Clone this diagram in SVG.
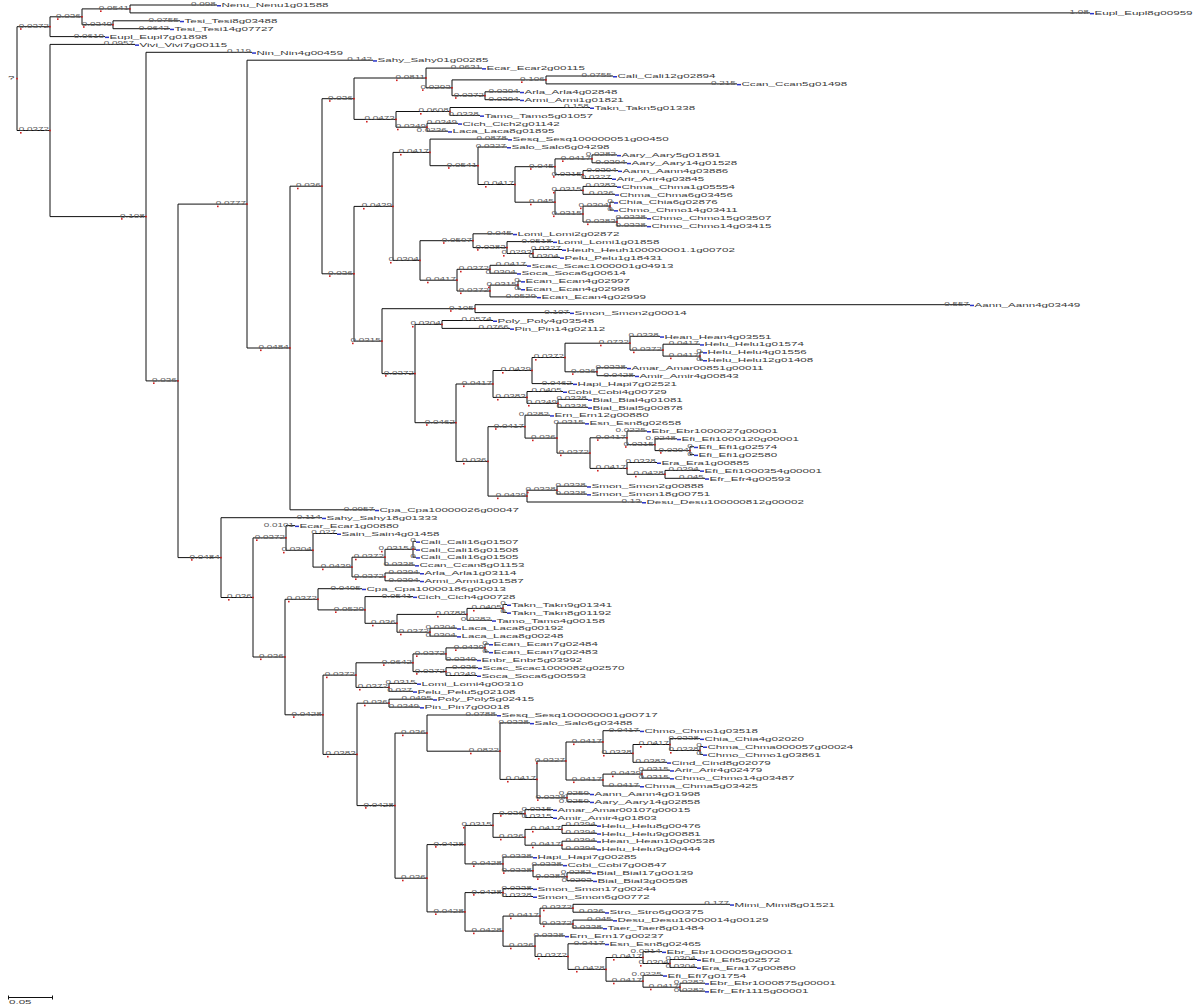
<svg xmlns="http://www.w3.org/2000/svg" xmlns:xlink="http://www.w3.org/1999/xlink" width="1200" height="1008" viewBox="0 0 1200 1008">
<style>
.c path{fill:none;stroke:#111;stroke-width:1}
.b{font-family:"Liberation Sans",Arial,sans-serif;font-size:5.2px;fill:#5a5a5a;text-anchor:end;transform-box:fill-box;transform-origin:100% 50%;transform:scaleX(1.9)}
.l{font-family:"Liberation Sans",Arial,sans-serif;font-size:5.4px;fill:#3a3a3a;transform-box:fill-box;transform-origin:0% 50%;transform:scaleX(2.15)}
</style>
<defs>
<rect id="bm" width="4" height="1.5" fill="#2a35c8"/>
<rect id="rd" width="1.6" height="1.6" fill="#d02020"/>
</defs>
<rect width="1200" height="1008" fill="#fff"/>
<g id="connectors" class="c">
<path d="M17 26.7V130.5M17 26.7H50M17 130.5H50"/>
<path d="M50 16.8V36.6M50 16.8H82M50 36.6H105"/>
<path d="M82 8.9V24.7M82 8.9H130M82 24.7H113"/>
<path d="M130 5V12.9M130 5H217M130 12.9H1090"/>
<path d="M113 20.8V28.7M113 20.8H180M113 28.7H170"/>
<path d="M50 44.4V216.6M50 44.4H135M50 216.6H146"/>
<path d="M146 52.3V380.9M146 52.3H252M146 380.9H178"/>
<path d="M178 204.1V557.6M178 204.1H247M178 557.6H221"/>
<path d="M247 60.2V348M247 60.2H373M247 348H290"/>
<path d="M290 186.2V509.8M290 186.2H322M290 509.8H375"/>
<path d="M322 98.7V273.8M322 98.7H354M322 273.8H354"/>
<path d="M354 78V119.4M354 78H426M354 119.4H396"/>
<path d="M426 68.1V87.8M426 68.1H482M426 87.8H452"/>
<path d="M452 79.9V95.7M452 79.9H546M452 95.7H485"/>
<path d="M546 76V83.9M546 76H613M546 83.9H737"/>
<path d="M485 91.8V99.7M485 91.8H520M485 99.7H520"/>
<path d="M396 111.5V127.2M396 111.5H450M396 127.2H427"/>
<path d="M450 107.5V115.4M450 107.5H590M450 115.4H480"/>
<path d="M427 123.3V131.2M427 123.3H458M427 131.2H448"/>
<path d="M354 206.4V341.1M354 206.4H393M354 341.1H382"/>
<path d="M393 152.4V260.4M393 152.4H430M393 260.4H420"/>
<path d="M430 139.1V165.7M430 139.1H508M430 165.7H478"/>
<path d="M478 147V184.5M478 147H507M478 184.5H515"/>
<path d="M515 166.7V202.2M515 166.7H555M515 202.2H555"/>
<path d="M555 158.9V174.6M555 158.9H592M555 174.6H583"/>
<path d="M592 154.9V162.8M592 154.9H617M592 162.8H627"/>
<path d="M583 170.6V178.5M583 170.6H618M583 178.5H612"/>
<path d="M555 190.4V214M555 190.4H583M555 214H583"/>
<path d="M583 186.4V194.3M583 186.4H617M583 194.3H615"/>
<path d="M583 206.1V222M583 206.1H610M583 222H617"/>
<path d="M610 202.2V210.1M610 202.2H614M610 210.1H614"/>
<path d="M617 218V225.9M617 218H647M617 225.9H647"/>
<path d="M420 240.7V280.2M420 240.7H473M420 280.2H457"/>
<path d="M473 233.8V247.6M473 233.8H513M473 247.6H507"/>
<path d="M507 241.6V253.5M507 241.6H553M507 253.5H533"/>
<path d="M533 249.5V257.4M533 249.5H562M533 257.4H560"/>
<path d="M457 269.3V291M457 269.3H490M457 291H490"/>
<path d="M490 265.3V273.2M490 265.3H527M490 273.2H517"/>
<path d="M490 285.1V296.9M490 285.1H518M490 296.9H537"/>
<path d="M518 281.1V289M518 281.1H521M518 289H521"/>
<path d="M382 308.7V373.6M382 308.7H475M382 373.6H415"/>
<path d="M475 304.7V312.6M475 304.7H970M475 312.6H570"/>
<path d="M415 324.4V422.7M415 324.4H442M415 422.7H456"/>
<path d="M442 320.5V328.4M442 320.5H493M442 328.4H510"/>
<path d="M456 384V461.4M456 384H493M456 461.4H488"/>
<path d="M493 370.5V397.4M493 370.5H532M493 397.4H527"/>
<path d="M532 357.5V383.6M532 357.5H565M532 383.6H573"/>
<path d="M565 343.2V371.8M565 343.2H630M565 371.8H597"/>
<path d="M630 336.3V350.1M630 336.3H660M630 350.1H663"/>
<path d="M663 344.2V356.1M663 344.2H700M663 356.1H700"/>
<path d="M700 352.1V360M700 352.1H703M700 360H703"/>
<path d="M597 367.8V375.7M597 367.8H627M597 375.7H635"/>
<path d="M527 391.5V403.4M527 391.5H563M527 403.4H558"/>
<path d="M558 399.4V407.3M558 399.4H588M558 407.3H588"/>
<path d="M488 426.7V496.1M488 426.7H525M488 496.1H527"/>
<path d="M525 415.2V438.1M525 415.2H550M525 438.1H557"/>
<path d="M557 423.1V453.1M557 423.1H585M557 453.1H590"/>
<path d="M590 437.8V468.4M590 437.8H627M590 468.4H627"/>
<path d="M627 431V444.7M627 431H647M627 444.7H655"/>
<path d="M655 438.8V450.6M655 438.8H677M655 450.6H690"/>
<path d="M690 446.7V454.6M690 446.7H694M690 454.6H694"/>
<path d="M627 462.5V474.3M627 462.5H657M627 474.3H665"/>
<path d="M665 470.4V478.3M665 470.4H700M665 478.3H705"/>
<path d="M527 490.2V502M527 490.2H557M527 502H642"/>
<path d="M557 486.2V494.1M557 486.2H587M557 494.1H587"/>
<path d="M221 517.7V597.5M221 517.7H322M221 597.5H253"/>
<path d="M253 537.9V657M253 537.9H286M253 657H285"/>
<path d="M286 525.6V550.3M286 525.6H295M286 550.3H313"/>
<path d="M313 533.5V567.1M313 533.5H337M313 567.1H352"/>
<path d="M352 557.2V576.9M352 557.2H385M352 576.9H385"/>
<path d="M385 549.3V565.1M385 549.3H413M385 565.1H415"/>
<path d="M413 541.4V557.2M413 541.4H416M413 549.3H416M413 557.2H416"/>
<path d="M385 573V580.8M385 573H420M385 580.8H420"/>
<path d="M285 599.3V714.8M285 599.3H318M285 714.8H323"/>
<path d="M318 588.7V609.9M318 588.7H362M318 609.9H365"/>
<path d="M365 596.6V623.3M365 596.6H413M365 623.3H397"/>
<path d="M397 614.4V632.2M397 614.4H467M397 632.2H430"/>
<path d="M467 608.4V620.3M467 608.4H503M467 620.3H492"/>
<path d="M503 604.5V612.4M503 604.5H507M503 612.4H507"/>
<path d="M430 628.2V636.1M430 628.2H457M430 636.1H457"/>
<path d="M323 675.1V754.4M323 675.1H356M323 754.4H357"/>
<path d="M356 662.8V687.4M356 662.8H413M356 687.4H389"/>
<path d="M413 653.9V671.6M413 653.9H446M413 671.6H446"/>
<path d="M446 647.9V659.8M446 647.9H485M446 659.8H477"/>
<path d="M485 644V651.9M485 644H489M485 651.9H489"/>
<path d="M446 667.7V675.5M446 667.7H478M446 675.5H477"/>
<path d="M389 683.4V691.3M389 683.4H417M389 691.3H413"/>
<path d="M357 703.2V805.6M357 703.2H389M357 805.6H395"/>
<path d="M389 699.2V707.1M389 699.2H433M389 707.1H420"/>
<path d="M395 733.1V878.2M395 733.1H427M395 878.2H427"/>
<path d="M427 715V751.2M427 715H497M427 751.2H500"/>
<path d="M500 722.9V779.4M500 722.9H530M500 779.4H537"/>
<path d="M537 761V797.8M537 761H566M537 797.8H567"/>
<path d="M566 742V780M566 742H603M566 780H603"/>
<path d="M603 730.7V753.4M603 730.7H640M603 753.4H633"/>
<path d="M633 744.5V762.3M633 744.5H670M633 762.3H667"/>
<path d="M670 738.6V750.5M670 738.6H700M670 750.5H700"/>
<path d="M700 746.5V754.4M700 746.5H703M700 754.4H703"/>
<path d="M603 774.1V786M603 774.1H642M603 786H640"/>
<path d="M642 770.2V778.1M642 770.2H670M642 778.1H670"/>
<path d="M567 793.8V801.7M567 793.8H590M567 801.7H590"/>
<path d="M427 844.6V911.9M427 844.6H465M427 911.9H465"/>
<path d="M465 825.4V863.9M465 825.4H493M465 863.9H503"/>
<path d="M493 813.6V837.3M493 813.6H525M493 837.3H525"/>
<path d="M525 809.6V817.5M525 809.6H553M525 817.5H553"/>
<path d="M525 829.4V845.2M525 829.4H562M525 845.2H562"/>
<path d="M562 825.4V833.3M562 825.4H597M562 833.3H597"/>
<path d="M562 841.2V849.1M562 841.2H597M562 849.1H597"/>
<path d="M503 857V870.8M503 857H533M503 870.8H533"/>
<path d="M533 864.9V876.8M533 864.9H563M533 876.8H567"/>
<path d="M567 872.8V880.7M567 872.8H592M567 880.7H593"/>
<path d="M465 892.6V931.1M465 892.6H503M465 931.1H503"/>
<path d="M503 888.6V896.5M503 888.6H533M503 896.5H533"/>
<path d="M503 916.1V946.2M503 916.1H540M503 946.2H535"/>
<path d="M540 908.2V924M540 908.2H573M540 924H573"/>
<path d="M573 904.3V912.2M573 904.3H730M573 912.2H605"/>
<path d="M573 920.1V928M573 920.1H613M573 928H603"/>
<path d="M535 935.9V956.5M535 935.9H565M535 956.5H568"/>
<path d="M568 943.8V969.4M568 943.8H605M568 969.4H606"/>
<path d="M606 957.5V981.2M606 957.5H643M606 981.2H643"/>
<path d="M643 951.6V963.5M643 951.6H662M643 963.5H670"/>
<path d="M670 959.5V967.4M670 959.5H697M670 967.4H697"/>
<path d="M643 975.3V987.2M643 975.3H663M643 987.2H680"/>
<path d="M680 983.2V991.1M680 983.2H705M680 991.1H705"/>
<path d="M8 997.5H53M8.5 995.5V999.5M52.5 995.5V999.5"/>
<g id="branch-labels">
<text class="b" x="49" y="27.7">0.0372</text><text class="b" x="49" y="131.5">0.0372</text>
<text class="b" x="81" y="17.8">0.036</text><text class="b" x="104" y="37.6">0.0619</text>
<text class="b" x="129" y="9.9">0.0541</text><text class="b" x="112" y="25.7">0.0349</text>
<text class="b" x="216" y="6">0.098</text><text class="b" x="1089" y="13.9">1.08</text>
<text class="b" x="179" y="21.8">0.0755</text><text class="b" x="169" y="29.7">0.0642</text>
<text class="b" x="134" y="45.4">0.0957</text><text class="b" x="145" y="217.6">0.108</text>
<text class="b" x="251" y="53.3">0.119</text><text class="b" x="177" y="381.9">0.036</text>
<text class="b" x="246" y="205.1">0.0777</text><text class="b" x="220" y="558.6">0.0484</text>
<text class="b" x="372" y="61.2">0.142</text><text class="b" x="289" y="349">0.0484</text>
<text class="b" x="321" y="187.2">0.036</text><text class="b" x="374" y="510.8">0.0957</text>
<text class="b" x="353" y="99.7">0.036</text><text class="b" x="353" y="274.8">0.036</text>
<text class="b" x="425" y="79">0.0811</text><text class="b" x="395" y="120.4">0.0473</text>
<text class="b" x="481" y="69.1">0.0631</text><text class="b" x="451" y="88.8">0.0293</text>
<text class="b" x="545" y="80.9">0.106</text><text class="b" x="484" y="96.7">0.0372</text>
<text class="b" x="612" y="77">0.0755</text><text class="b" x="736" y="84.9">0.215</text>
<text class="b" x="519" y="92.8">0.0394</text><text class="b" x="519" y="100.7">0.0394</text>
<text class="b" x="449" y="112.5">0.0608</text><text class="b" x="426" y="128.2">0.0349</text>
<text class="b" x="589" y="108.5">0.158</text><text class="b" x="479" y="116.4">0.0338</text>
<text class="b" x="457" y="124.3">0.0349</text><text class="b" x="447" y="132.2">0.0236</text>
<text class="b" x="392" y="207.4">0.0439</text><text class="b" x="381" y="342.1">0.0315</text>
<text class="b" x="429" y="153.4">0.0417</text><text class="b" x="419" y="261.4">0.0304</text>
<text class="b" x="507" y="140.1">0.0878</text><text class="b" x="477" y="166.7">0.0541</text>
<text class="b" x="506" y="148">0.0327</text><text class="b" x="514" y="185.5">0.0417</text>
<text class="b" x="554" y="167.7">0.045</text><text class="b" x="554" y="203.2">0.045</text>
<text class="b" x="591" y="159.9">0.0417</text><text class="b" x="582" y="175.6">0.0315</text>
<text class="b" x="616" y="155.9">0.0282</text><text class="b" x="626" y="163.8">0.0394</text>
<text class="b" x="617" y="171.6">0.0394</text><text class="b" x="611" y="179.5">0.0327</text>
<text class="b" x="582" y="191.4">0.0315</text><text class="b" x="582" y="215">0.0315</text>
<text class="b" x="616" y="187.4">0.0383</text><text class="b" x="614" y="195.3">0.036</text>
<text class="b" x="609" y="207.1">0.0304</text><text class="b" x="616" y="223">0.0383</text>
<text class="b" x="613" y="203.2">0</text><text class="b" x="613" y="211.1">0</text>
<text class="b" x="646" y="219">0.0338</text><text class="b" x="646" y="226.9">0.0338</text>
<text class="b" x="472" y="241.7">0.0597</text><text class="b" x="456" y="281.2">0.0417</text>
<text class="b" x="512" y="234.8">0.045</text><text class="b" x="506" y="248.6">0.0383</text>
<text class="b" x="552" y="242.6">0.0518</text><text class="b" x="532" y="254.5">0.0293</text>
<text class="b" x="561" y="250.5">0.0327</text><text class="b" x="559" y="258.4">0.0304</text>
<text class="b" x="489" y="270.3">0.0372</text><text class="b" x="489" y="292">0.0372</text>
<text class="b" x="526" y="266.3">0.0417</text><text class="b" x="516" y="274.2">0.0304</text>
<text class="b" x="517" y="286.1">0.0315</text><text class="b" x="536" y="297.9">0.0529</text>
<text class="b" x="520" y="282.1">0</text><text class="b" x="520" y="290">0</text>
<text class="b" x="474" y="309.7">0.105</text><text class="b" x="414" y="374.6">0.0372</text>
<text class="b" x="969" y="305.7">0.557</text><text class="b" x="569" y="313.6">0.107</text>
<text class="b" x="441" y="325.4">0.0304</text><text class="b" x="455" y="423.7">0.0462</text>
<text class="b" x="492" y="321.5">0.0574</text><text class="b" x="509" y="329.4">0.0766</text>
<text class="b" x="492" y="385">0.0417</text><text class="b" x="487" y="462.4">0.036</text>
<text class="b" x="531" y="371.5">0.0439</text><text class="b" x="526" y="398.4">0.0383</text>
<text class="b" x="564" y="358.5">0.0372</text><text class="b" x="572" y="384.6">0.0462</text>
<text class="b" x="629" y="344.2">0.0732</text><text class="b" x="596" y="372.8">0.036</text>
<text class="b" x="659" y="337.3">0.0338</text><text class="b" x="662" y="351.1">0.0372</text>
<text class="b" x="699" y="345.2">0.0417</text><text class="b" x="699" y="357.1">0.0417</text>
<text class="b" x="702" y="353.1">0</text><text class="b" x="702" y="361">0</text>
<text class="b" x="626" y="368.8">0.0338</text><text class="b" x="634" y="376.7">0.0428</text>
<text class="b" x="562" y="392.5">0.0405</text><text class="b" x="557" y="404.4">0.0349</text>
<text class="b" x="587" y="400.4">0.0338</text><text class="b" x="587" y="408.3">0.0338</text>
<text class="b" x="524" y="427.7">0.0417</text><text class="b" x="526" y="497.1">0.0439</text>
<text class="b" x="549" y="416.2">0.0282</text><text class="b" x="556" y="439.1">0.036</text>
<text class="b" x="584" y="424.1">0.0315</text><text class="b" x="589" y="454.1">0.0372</text>
<text class="b" x="626" y="438.8">0.0417</text><text class="b" x="626" y="469.4">0.0417</text>
<text class="b" x="646" y="432">0.0225</text><text class="b" x="654" y="445.7">0.0315</text>
<text class="b" x="676" y="439.8">0.0248</text><text class="b" x="689" y="451.6">0.0394</text>
<text class="b" x="693" y="447.7">0</text><text class="b" x="693" y="455.6">0</text>
<text class="b" x="656" y="463.5">0.0338</text><text class="b" x="664" y="475.3">0.0428</text>
<text class="b" x="699" y="471.4">0.0394</text><text class="b" x="704" y="479.3">0.045</text>
<text class="b" x="556" y="491.2">0.0338</text><text class="b" x="641" y="503">0.13</text>
<text class="b" x="586" y="487.2">0.0338</text><text class="b" x="586" y="495.1">0.0338</text>
<text class="b" x="321" y="518.7">0.114</text><text class="b" x="252" y="598.5">0.036</text>
<text class="b" x="285" y="538.9">0.0372</text><text class="b" x="284" y="658">0.036</text>
<text class="b" x="294" y="526.6">0.0101</text><text class="b" x="312" y="551.3">0.0304</text>
<text class="b" x="336" y="534.5">0.027</text><text class="b" x="351" y="568.1">0.0439</text>
<text class="b" x="384" y="558.2">0.0372</text><text class="b" x="384" y="577.9">0.0372</text>
<text class="b" x="409" y="550.3">0.0315</text><text class="b" x="414" y="566.1">0.0338</text>
<text class="b" x="416" y="542.4">0</text><text class="b" x="416" y="550.3">0</text><text class="b" x="416" y="558.2">0</text>
<text class="b" x="419" y="574">0.0394</text><text class="b" x="419" y="581.8">0.0394</text>
<text class="b" x="317" y="600.3">0.0372</text><text class="b" x="322" y="715.8">0.0428</text>
<text class="b" x="361" y="589.7">0.0495</text><text class="b" x="364" y="610.9">0.0529</text>
<text class="b" x="412" y="597.6">0.0541</text><text class="b" x="396" y="624.3">0.036</text>
<text class="b" x="466" y="615.4">0.0788</text><text class="b" x="429" y="633.2">0.0372</text>
<text class="b" x="502" y="609.4">0.0405</text><text class="b" x="491" y="621.3">0.0282</text>
<text class="b" x="506" y="605.5">0</text><text class="b" x="506" y="613.4">0</text>
<text class="b" x="456" y="629.2">0.0304</text><text class="b" x="456" y="637.1">0.0304</text>
<text class="b" x="355" y="676.1">0.0372</text><text class="b" x="356" y="755.4">0.0383</text>
<text class="b" x="412" y="663.8">0.0642</text><text class="b" x="388" y="688.4">0.0372</text>
<text class="b" x="445" y="654.9">0.0372</text><text class="b" x="445" y="672.6">0.0372</text>
<text class="b" x="484" y="648.9">0.0439</text><text class="b" x="476" y="660.8">0.0349</text>
<text class="b" x="488" y="645">0</text><text class="b" x="488" y="652.9">0</text>
<text class="b" x="477" y="668.7">0.036</text><text class="b" x="476" y="676.5">0.0349</text>
<text class="b" x="416" y="684.4">0.0315</text><text class="b" x="412" y="692.3">0.027</text>
<text class="b" x="388" y="704.2">0.036</text><text class="b" x="394" y="806.6">0.0428</text>
<text class="b" x="432" y="700.2">0.0495</text><text class="b" x="419" y="708.1">0.0349</text>
<text class="b" x="426" y="734.1">0.036</text><text class="b" x="426" y="879.2">0.036</text>
<text class="b" x="496" y="716">0.0788</text><text class="b" x="499" y="752.2">0.0822</text>
<text class="b" x="529" y="723.9">0.0338</text><text class="b" x="536" y="780.4">0.0417</text>
<text class="b" x="565" y="762">0.0327</text><text class="b" x="566" y="798.8">0.0338</text>
<text class="b" x="602" y="743">0.0417</text><text class="b" x="602" y="781">0.0417</text>
<text class="b" x="639" y="731.7">0.0417</text><text class="b" x="632" y="754.4">0.0338</text>
<text class="b" x="669" y="745.5">0.0417</text><text class="b" x="666" y="763.3">0.0383</text>
<text class="b" x="699" y="739.6">0.0338</text><text class="b" x="699" y="751.5">0.0338</text>
<text class="b" x="702" y="747.5">0</text><text class="b" x="702" y="755.4">0</text>
<text class="b" x="641" y="775.1">0.0439</text><text class="b" x="639" y="787">0.0417</text>
<text class="b" x="669" y="771.2">0.0315</text><text class="b" x="669" y="779.1">0.0315</text>
<text class="b" x="589" y="794.8">0.0259</text><text class="b" x="589" y="802.7">0.0259</text>
<text class="b" x="464" y="845.6">0.0428</text><text class="b" x="464" y="912.9">0.0428</text>
<text class="b" x="492" y="826.4">0.0315</text><text class="b" x="502" y="864.9">0.0428</text>
<text class="b" x="524" y="814.6">0.036</text><text class="b" x="524" y="838.3">0.036</text>
<text class="b" x="552" y="810.6">0.0315</text><text class="b" x="552" y="818.5">0.0315</text>
<text class="b" x="561" y="830.4">0.0417</text><text class="b" x="561" y="846.2">0.0417</text>
<text class="b" x="596" y="826.4">0.0394</text><text class="b" x="596" y="834.3">0.0394</text>
<text class="b" x="596" y="842.2">0.0394</text><text class="b" x="596" y="850.1">0.0394</text>
<text class="b" x="532" y="858">0.0338</text><text class="b" x="532" y="871.8">0.0338</text>
<text class="b" x="562" y="865.9">0.0338</text><text class="b" x="566" y="877.8">0.0383</text>
<text class="b" x="591" y="873.8">0.0282</text><text class="b" x="592" y="881.7">0.0293</text>
<text class="b" x="502" y="893.6">0.0428</text><text class="b" x="502" y="932.1">0.0428</text>
<text class="b" x="532" y="889.6">0.0338</text><text class="b" x="532" y="897.5">0.0338</text>
<text class="b" x="539" y="917.1">0.0417</text><text class="b" x="534" y="947.2">0.036</text>
<text class="b" x="572" y="909.2">0.0372</text><text class="b" x="572" y="925">0.0372</text>
<text class="b" x="729" y="905.3">0.177</text><text class="b" x="604" y="913.2">0.036</text>
<text class="b" x="612" y="921.1">0.045</text><text class="b" x="602" y="929">0.0338</text>
<text class="b" x="564" y="936.9">0.0338</text><text class="b" x="567" y="957.5">0.0372</text>
<text class="b" x="604" y="944.8">0.0417</text><text class="b" x="605" y="970.4">0.0428</text>
<text class="b" x="642" y="958.5">0.0417</text><text class="b" x="642" y="982.2">0.0417</text>
<text class="b" x="661" y="952.6">0.0214</text><text class="b" x="669" y="964.5">0.0304</text>
<text class="b" x="696" y="960.5">0.0304</text><text class="b" x="696" y="968.4">0.0304</text>
<text class="b" x="662" y="976.3">0.0225</text><text class="b" x="679" y="988.2">0.0417</text>
<text class="b" x="704" y="984.2">0.0282</text><text class="b" x="704" y="992.1">0.0282</text>
<text class="l" x="9" y="1004">0.05</text>
<text class="l" x="8" y="80.5">?</text>
</g>
</g>
<g id="leaves">
<g id="leaf-0"><use href="#bm" x="217" y="5"/><text class="l" x="221.5" y="7.3">Nenu_Nenu1g01588</text></g>
<g id="leaf-1"><use href="#bm" x="1090" y="12.9"/><text class="l" x="1094.5" y="15.2">Eupl_Eupl8g00959</text></g>
<g id="leaf-2"><use href="#bm" x="180" y="20.8"/><text class="l" x="184.5" y="23.1">Tesi_Tesi8g03488</text></g>
<g id="leaf-3"><use href="#bm" x="170" y="28.7"/><text class="l" x="174.5" y="31">Tesi_Tesi14g07727</text></g>
<g id="leaf-4"><use href="#bm" x="105" y="36.6"/><text class="l" x="109.5" y="38.9">Eupl_Eupl7g01898</text></g>
<g id="leaf-5"><use href="#bm" x="135" y="44.4"/><text class="l" x="139.5" y="46.7">Vivi_Vivi7g00115</text></g>
<g id="leaf-6"><use href="#bm" x="252" y="52.3"/><text class="l" x="256.5" y="54.6">Nin_Nin4g00459</text></g>
<g id="leaf-7"><use href="#bm" x="373" y="60.2"/><text class="l" x="377.5" y="62.5">Sahy_Sahy01g00285</text></g>
<g id="leaf-8"><use href="#bm" x="482" y="68.1"/><text class="l" x="486.5" y="70.4">Ecar_Ecar2g00115</text></g>
<g id="leaf-9"><use href="#bm" x="613" y="76"/><text class="l" x="617.5" y="78.3">Cali_Cali12g02894</text></g>
<g id="leaf-10"><use href="#bm" x="737" y="83.9"/><text class="l" x="741.5" y="86.2">Ccan_Ccan5g01498</text></g>
<g id="leaf-11"><use href="#bm" x="520" y="91.8"/><text class="l" x="524.5" y="94.1">Arla_Arla4g02848</text></g>
<g id="leaf-12"><use href="#bm" x="520" y="99.7"/><text class="l" x="524.5" y="102">Armi_Armi1g01821</text></g>
<g id="leaf-13"><use href="#bm" x="590" y="107.5"/><text class="l" x="594.5" y="109.8">Takn_Takn5g01338</text></g>
<g id="leaf-14"><use href="#bm" x="480" y="115.4"/><text class="l" x="484.5" y="117.7">Tamo_Tamo5g01057</text></g>
<g id="leaf-15"><use href="#bm" x="458" y="123.3"/><text class="l" x="462.5" y="125.6">Cich_Cich2g01142</text></g>
<g id="leaf-16"><use href="#bm" x="448" y="131.2"/><text class="l" x="452.5" y="133.5">Laca_Laca8g01895</text></g>
<g id="leaf-17"><use href="#bm" x="508" y="139.1"/><text class="l" x="512.5" y="141.4">Sesq_Sesq100000051g00450</text></g>
<g id="leaf-18"><use href="#bm" x="507" y="147"/><text class="l" x="511.5" y="149.3">Salo_Salo6g04298</text></g>
<g id="leaf-19"><use href="#bm" x="617" y="154.9"/><text class="l" x="621.5" y="157.2">Aary_Aary5g01891</text></g>
<g id="leaf-20"><use href="#bm" x="627" y="162.8"/><text class="l" x="631.5" y="165.1">Aary_Aary14g01528</text></g>
<g id="leaf-21"><use href="#bm" x="618" y="170.6"/><text class="l" x="622.5" y="172.9">Aann_Aann4g03886</text></g>
<g id="leaf-22"><use href="#bm" x="612" y="178.5"/><text class="l" x="616.5" y="180.8">Arir_Arir4g03845</text></g>
<g id="leaf-23"><use href="#bm" x="617" y="186.4"/><text class="l" x="621.5" y="188.7">Chma_Chma1g05554</text></g>
<g id="leaf-24"><use href="#bm" x="615" y="194.3"/><text class="l" x="619.5" y="196.6">Chma_Chma6g03456</text></g>
<g id="leaf-25"><use href="#bm" x="614" y="202.2"/><text class="l" x="618.5" y="204.5">Chia_Chia6g02876</text></g>
<g id="leaf-26"><use href="#bm" x="614" y="210.1"/><text class="l" x="618.5" y="212.4">Chmo_Chmo14g03411</text></g>
<g id="leaf-27"><use href="#bm" x="647" y="218"/><text class="l" x="651.5" y="220.3">Chmo_Chmo15g03507</text></g>
<g id="leaf-28"><use href="#bm" x="647" y="225.9"/><text class="l" x="651.5" y="228.2">Chmo_Chmo14g03415</text></g>
<g id="leaf-29"><use href="#bm" x="513" y="233.8"/><text class="l" x="517.5" y="236.1">Lomi_Lomi2g02872</text></g>
<g id="leaf-30"><use href="#bm" x="553" y="241.6"/><text class="l" x="557.5" y="243.9">Lomi_Lomi1g01858</text></g>
<g id="leaf-31"><use href="#bm" x="562" y="249.5"/><text class="l" x="566.5" y="251.8">Heuh_Heuh100000001.1g00702</text></g>
<g id="leaf-32"><use href="#bm" x="560" y="257.4"/><text class="l" x="564.5" y="259.7">Pelu_Pelu1g18431</text></g>
<g id="leaf-33"><use href="#bm" x="527" y="265.3"/><text class="l" x="531.5" y="267.6">Scac_Scac1000001g04913</text></g>
<g id="leaf-34"><use href="#bm" x="517" y="273.2"/><text class="l" x="521.5" y="275.5">Soca_Soca6g00614</text></g>
<g id="leaf-35"><use href="#bm" x="521" y="281.1"/><text class="l" x="525.5" y="283.4">Ecan_Ecan4g02997</text></g>
<g id="leaf-36"><use href="#bm" x="521" y="289"/><text class="l" x="525.5" y="291.3">Ecan_Ecan4g02998</text></g>
<g id="leaf-37"><use href="#bm" x="537" y="296.9"/><text class="l" x="541.5" y="299.2">Ecan_Ecan4g02999</text></g>
<g id="leaf-38"><use href="#bm" x="970" y="304.7"/><text class="l" x="974.5" y="307">Aann_Aann4g03449</text></g>
<g id="leaf-39"><use href="#bm" x="570" y="312.6"/><text class="l" x="574.5" y="314.9">Smon_Smon2g00014</text></g>
<g id="leaf-40"><use href="#bm" x="493" y="320.5"/><text class="l" x="497.5" y="322.8">Poly_Poly4g03548</text></g>
<g id="leaf-41"><use href="#bm" x="510" y="328.4"/><text class="l" x="514.5" y="330.7">Pin_Pin14g02112</text></g>
<g id="leaf-42"><use href="#bm" x="660" y="336.3"/><text class="l" x="664.5" y="338.6">Hean_Hean4g03551</text></g>
<g id="leaf-43"><use href="#bm" x="700" y="344.2"/><text class="l" x="704.5" y="346.5">Helu_Helu1g01574</text></g>
<g id="leaf-44"><use href="#bm" x="703" y="352.1"/><text class="l" x="707.5" y="354.4">Helu_Helu4g01556</text></g>
<g id="leaf-45"><use href="#bm" x="703" y="360"/><text class="l" x="707.5" y="362.3">Helu_Helu12g01408</text></g>
<g id="leaf-46"><use href="#bm" x="627" y="367.8"/><text class="l" x="631.5" y="370.1">Amar_Amar00851g00011</text></g>
<g id="leaf-47"><use href="#bm" x="635" y="375.7"/><text class="l" x="639.5" y="378">Amir_Amir4g00843</text></g>
<g id="leaf-48"><use href="#bm" x="573" y="383.6"/><text class="l" x="577.5" y="385.9">Hapi_Hapi7g02521</text></g>
<g id="leaf-49"><use href="#bm" x="563" y="391.5"/><text class="l" x="567.5" y="393.8">Cobi_Cobi4g00729</text></g>
<g id="leaf-50"><use href="#bm" x="588" y="399.4"/><text class="l" x="592.5" y="401.7">Bial_Bial4g01081</text></g>
<g id="leaf-51"><use href="#bm" x="588" y="407.3"/><text class="l" x="592.5" y="409.6">Bial_Bial5g00878</text></g>
<g id="leaf-52"><use href="#bm" x="550" y="415.2"/><text class="l" x="554.5" y="417.5">Ern_Ern12g00880</text></g>
<g id="leaf-53"><use href="#bm" x="585" y="423.1"/><text class="l" x="589.5" y="425.4">Esn_Esn8g02658</text></g>
<g id="leaf-54"><use href="#bm" x="647" y="431"/><text class="l" x="651.5" y="433.3">Ebr_Ebr1000027g00001</text></g>
<g id="leaf-55"><use href="#bm" x="677" y="438.8"/><text class="l" x="681.5" y="441.1">Efi_Efi1000120g00001</text></g>
<g id="leaf-56"><use href="#bm" x="694" y="446.7"/><text class="l" x="698.5" y="449">Efi_Efi1g02574</text></g>
<g id="leaf-57"><use href="#bm" x="694" y="454.6"/><text class="l" x="698.5" y="456.9">Efi_Efi1g02580</text></g>
<g id="leaf-58"><use href="#bm" x="657" y="462.5"/><text class="l" x="661.5" y="464.8">Era_Era1g00885</text></g>
<g id="leaf-59"><use href="#bm" x="700" y="470.4"/><text class="l" x="704.5" y="472.7">Efi_Efi1000354g00001</text></g>
<g id="leaf-60"><use href="#bm" x="705" y="478.3"/><text class="l" x="709.5" y="480.6">Efr_Efr4g00593</text></g>
<g id="leaf-61"><use href="#bm" x="587" y="486.2"/><text class="l" x="591.5" y="488.5">Smon_Smon2g00888</text></g>
<g id="leaf-62"><use href="#bm" x="587" y="494.1"/><text class="l" x="591.5" y="496.4">Smon_Smon18g00751</text></g>
<g id="leaf-63"><use href="#bm" x="642" y="502"/><text class="l" x="646.5" y="504.3">Desu_Desu100000812g00002</text></g>
<g id="leaf-64"><use href="#bm" x="375" y="509.8"/><text class="l" x="379.5" y="512.1">Cpa_Cpa10000026g00047</text></g>
<g id="leaf-65"><use href="#bm" x="322" y="517.7"/><text class="l" x="326.5" y="520">Sahy_Sahy18g01333</text></g>
<g id="leaf-66"><use href="#bm" x="295" y="525.6"/><text class="l" x="299.5" y="527.9">Ecar_Ecar1g00880</text></g>
<g id="leaf-67"><use href="#bm" x="337" y="533.5"/><text class="l" x="341.5" y="535.8">Sain_Sain4g01458</text></g>
<g id="leaf-68"><use href="#bm" x="416" y="541.4"/><text class="l" x="420.5" y="543.7">Cali_Cali16g01507</text></g>
<g id="leaf-69"><use href="#bm" x="416" y="549.3"/><text class="l" x="420.5" y="551.6">Cali_Cali16g01508</text></g>
<g id="leaf-70"><use href="#bm" x="416" y="557.2"/><text class="l" x="420.5" y="559.5">Cali_Cali16g01505</text></g>
<g id="leaf-71"><use href="#bm" x="415" y="565.1"/><text class="l" x="419.5" y="567.4">Ccan_Ccan8g01153</text></g>
<g id="leaf-72"><use href="#bm" x="420" y="573"/><text class="l" x="424.5" y="575.3">Arla_Arla1g03114</text></g>
<g id="leaf-73"><use href="#bm" x="420" y="580.8"/><text class="l" x="424.5" y="583.1">Armi_Armi1g01587</text></g>
<g id="leaf-74"><use href="#bm" x="362" y="588.7"/><text class="l" x="366.5" y="591">Cpa_Cpa10000186g00013</text></g>
<g id="leaf-75"><use href="#bm" x="413" y="596.6"/><text class="l" x="417.5" y="598.9">Cich_Cich4g00728</text></g>
<g id="leaf-76"><use href="#bm" x="507" y="604.5"/><text class="l" x="511.5" y="606.8">Takn_Takn9g01341</text></g>
<g id="leaf-77"><use href="#bm" x="507" y="612.4"/><text class="l" x="511.5" y="614.7">Takn_Takn8g01192</text></g>
<g id="leaf-78"><use href="#bm" x="492" y="620.3"/><text class="l" x="496.5" y="622.6">Tamo_Tamo4g00158</text></g>
<g id="leaf-79"><use href="#bm" x="457" y="628.2"/><text class="l" x="461.5" y="630.5">Laca_Laca8g00192</text></g>
<g id="leaf-80"><use href="#bm" x="457" y="636.1"/><text class="l" x="461.5" y="638.4">Laca_Laca8g00248</text></g>
<g id="leaf-81"><use href="#bm" x="489" y="644"/><text class="l" x="493.5" y="646.3">Ecan_Ecan7g02484</text></g>
<g id="leaf-82"><use href="#bm" x="489" y="651.9"/><text class="l" x="493.5" y="654.2">Ecan_Ecan7g02483</text></g>
<g id="leaf-83"><use href="#bm" x="477" y="659.8"/><text class="l" x="481.5" y="662.1">Enbr_Enbr5g03992</text></g>
<g id="leaf-84"><use href="#bm" x="478" y="667.7"/><text class="l" x="482.5" y="670">Scac_Scac1000082g02570</text></g>
<g id="leaf-85"><use href="#bm" x="477" y="675.5"/><text class="l" x="481.5" y="677.8">Soca_Soca6g00593</text></g>
<g id="leaf-86"><use href="#bm" x="417" y="683.4"/><text class="l" x="421.5" y="685.7">Lomi_Lomi4g00310</text></g>
<g id="leaf-87"><use href="#bm" x="413" y="691.3"/><text class="l" x="417.5" y="693.6">Pelu_Pelu5g02108</text></g>
<g id="leaf-88"><use href="#bm" x="433" y="699.2"/><text class="l" x="437.5" y="701.5">Poly_Poly5g02415</text></g>
<g id="leaf-89"><use href="#bm" x="420" y="707.1"/><text class="l" x="424.5" y="709.4">Pin_Pin7g00018</text></g>
<g id="leaf-90"><use href="#bm" x="497" y="715"/><text class="l" x="501.5" y="717.3">Sesq_Sesq100000001g00717</text></g>
<g id="leaf-91"><use href="#bm" x="530" y="722.9"/><text class="l" x="534.5" y="725.2">Salo_Salo6g03488</text></g>
<g id="leaf-92"><use href="#bm" x="640" y="730.7"/><text class="l" x="644.5" y="733">Chmo_Chmo1g03518</text></g>
<g id="leaf-93"><use href="#bm" x="700" y="738.6"/><text class="l" x="704.5" y="740.9">Chia_Chia4g02020</text></g>
<g id="leaf-94"><use href="#bm" x="703" y="746.5"/><text class="l" x="707.5" y="748.8">Chma_Chma000057g00024</text></g>
<g id="leaf-95"><use href="#bm" x="703" y="754.4"/><text class="l" x="707.5" y="756.7">Chmo_Chmo1g03861</text></g>
<g id="leaf-96"><use href="#bm" x="667" y="762.3"/><text class="l" x="671.5" y="764.6">Cind_Cind8g02079</text></g>
<g id="leaf-97"><use href="#bm" x="670" y="770.2"/><text class="l" x="674.5" y="772.5">Arir_Arir4g02479</text></g>
<g id="leaf-98"><use href="#bm" x="670" y="778.1"/><text class="l" x="674.5" y="780.4">Chmo_Chmo14g03487</text></g>
<g id="leaf-99"><use href="#bm" x="640" y="786"/><text class="l" x="644.5" y="788.3">Chma_Chma5g03425</text></g>
<g id="leaf-100"><use href="#bm" x="590" y="793.8"/><text class="l" x="594.5" y="796.1">Aann_Aann4g01998</text></g>
<g id="leaf-101"><use href="#bm" x="590" y="801.7"/><text class="l" x="594.5" y="804">Aary_Aary14g02858</text></g>
<g id="leaf-102"><use href="#bm" x="553" y="809.6"/><text class="l" x="557.5" y="811.9">Amar_Amar00107g00015</text></g>
<g id="leaf-103"><use href="#bm" x="553" y="817.5"/><text class="l" x="557.5" y="819.8">Amir_Amir4g01803</text></g>
<g id="leaf-104"><use href="#bm" x="597" y="825.4"/><text class="l" x="601.5" y="827.7">Helu_Helu8g00476</text></g>
<g id="leaf-105"><use href="#bm" x="597" y="833.3"/><text class="l" x="601.5" y="835.6">Helu_Helu9g00881</text></g>
<g id="leaf-106"><use href="#bm" x="597" y="841.2"/><text class="l" x="601.5" y="843.5">Hean_Hean10g00538</text></g>
<g id="leaf-107"><use href="#bm" x="597" y="849.1"/><text class="l" x="601.5" y="851.4">Helu_Helu9g00444</text></g>
<g id="leaf-108"><use href="#bm" x="533" y="857"/><text class="l" x="537.5" y="859.3">Hapi_Hapi7g00285</text></g>
<g id="leaf-109"><use href="#bm" x="563" y="864.9"/><text class="l" x="567.5" y="867.2">Cobi_Cobi7g00847</text></g>
<g id="leaf-110"><use href="#bm" x="592" y="872.8"/><text class="l" x="596.5" y="875.1">Bial_Bial17g00139</text></g>
<g id="leaf-111"><use href="#bm" x="593" y="880.7"/><text class="l" x="597.5" y="883">Bial_Bial3g00598</text></g>
<g id="leaf-112"><use href="#bm" x="533" y="888.6"/><text class="l" x="537.5" y="890.9">Smon_Smon17g00244</text></g>
<g id="leaf-113"><use href="#bm" x="533" y="896.5"/><text class="l" x="537.5" y="898.8">Smon_Smon6g00772</text></g>
<g id="leaf-114"><use href="#bm" x="730" y="904.3"/><text class="l" x="734.5" y="906.6">Mimi_Mimi8g01521</text></g>
<g id="leaf-115"><use href="#bm" x="605" y="912.2"/><text class="l" x="609.5" y="914.5">Stro_Stro6g00375</text></g>
<g id="leaf-116"><use href="#bm" x="613" y="920.1"/><text class="l" x="617.5" y="922.4">Desu_Desu10000014g00129</text></g>
<g id="leaf-117"><use href="#bm" x="603" y="928"/><text class="l" x="607.5" y="930.3">Taer_Taer8g01484</text></g>
<g id="leaf-118"><use href="#bm" x="565" y="935.9"/><text class="l" x="569.5" y="938.2">Ern_Ern17g00237</text></g>
<g id="leaf-119"><use href="#bm" x="605" y="943.8"/><text class="l" x="609.5" y="946.1">Esn_Esn8g02465</text></g>
<g id="leaf-120"><use href="#bm" x="662" y="951.6"/><text class="l" x="666.5" y="953.9">Ebr_Ebr1000059g00001</text></g>
<g id="leaf-121"><use href="#bm" x="697" y="959.5"/><text class="l" x="701.5" y="961.8">Efi_Efi5g02572</text></g>
<g id="leaf-122"><use href="#bm" x="697" y="967.4"/><text class="l" x="701.5" y="969.7">Era_Era17g00880</text></g>
<g id="leaf-123"><use href="#bm" x="663" y="975.3"/><text class="l" x="667.5" y="977.6">Efi_Efi7g01754</text></g>
<g id="leaf-124"><use href="#bm" x="705" y="983.2"/><text class="l" x="709.5" y="985.5">Ebr_Ebr1000875g00001</text></g>
<g id="leaf-125"><use href="#bm" x="705" y="991.1"/><text class="l" x="709.5" y="993.4">Efr_Efr1115g00001</text></g>
</g>
<g id="internal-nodes">
<g id="root"><use href="#rd" x="16.2" y="77.8"/></g>
<g id="n50"><use href="#rd" x="49.2" y="25.9"/><use href="#rd" x="20" y="28.2"/></g>
<g id="n82"><use href="#rd" x="81.2" y="16"/><use href="#rd" x="57" y="18.3"/></g>
<g id="n130"><use href="#rd" x="129.2" y="8.1"/><use href="#rd" x="100" y="10.4"/></g>
<g id="n113"><use href="#rd" x="112.2" y="23.9"/><use href="#rd" x="83" y="26.2"/></g>
<g id="n50b"><use href="#rd" x="49.2" y="129.7"/><use href="#rd" x="20" y="132"/></g>
<g id="n146"><use href="#rd" x="145.2" y="215.8"/><use href="#rd" x="121" y="218.1"/></g>
<g id="n178"><use href="#rd" x="177.2" y="380.1"/><use href="#rd" x="153" y="382.4"/></g>
<g id="n247"><use href="#rd" x="246.2" y="203.3"/><use href="#rd" x="217" y="205.6"/></g>
<g id="n290"><use href="#rd" x="289.2" y="347.2"/><use href="#rd" x="260" y="349.5"/></g>
<g id="n322"><use href="#rd" x="321.2" y="185.4"/><use href="#rd" x="297" y="187.7"/></g>
<g id="n354"><use href="#rd" x="353.2" y="97.9"/><use href="#rd" x="329" y="100.2"/></g>
<g id="n426"><use href="#rd" x="425.2" y="77.2"/><use href="#rd" x="396" y="79.5"/></g>
<g id="n452"><use href="#rd" x="451.2" y="87"/><use href="#rd" x="422" y="89.3"/></g>
<g id="n546"><use href="#rd" x="545.2" y="79.1"/><use href="#rd" x="521" y="81.4"/></g>
<g id="n485"><use href="#rd" x="484.2" y="94.9"/><use href="#rd" x="455" y="97.2"/></g>
<g id="n396"><use href="#rd" x="395.2" y="118.6"/><use href="#rd" x="366" y="120.9"/></g>
<g id="n450"><use href="#rd" x="449.2" y="110.7"/><use href="#rd" x="420" y="113"/></g>
<g id="n427"><use href="#rd" x="426.2" y="126.4"/><use href="#rd" x="397" y="128.7"/></g>
<g id="n354b"><use href="#rd" x="353.2" y="273"/><use href="#rd" x="329" y="275.3"/></g>
<g id="n393"><use href="#rd" x="392.2" y="205.6"/><use href="#rd" x="363" y="207.9"/></g>
<g id="n430"><use href="#rd" x="429.2" y="151.6"/><use href="#rd" x="400" y="153.9"/></g>
<g id="n478"><use href="#rd" x="477.2" y="164.9"/><use href="#rd" x="448" y="167.2"/></g>
<g id="n515"><use href="#rd" x="514.2" y="183.7"/><use href="#rd" x="485" y="186"/></g>
<g id="n555"><use href="#rd" x="554.2" y="165.9"/><use href="#rd" x="530" y="168.2"/></g>
<g id="n592"><use href="#rd" x="591.2" y="158.1"/><use href="#rd" x="562" y="160.4"/></g>
<g id="n583"><use href="#rd" x="582.2" y="173.8"/><use href="#rd" x="553" y="176.1"/></g>
<g id="n555b"><use href="#rd" x="554.2" y="201.4"/><use href="#rd" x="530" y="203.7"/></g>
<g id="n583b"><use href="#rd" x="582.2" y="189.6"/><use href="#rd" x="553" y="191.9"/></g>
<g id="n583c"><use href="#rd" x="582.2" y="213.2"/><use href="#rd" x="553" y="215.5"/></g>
<g id="n610"><use href="#rd" x="609.2" y="205.3"/><use href="#rd" x="580" y="207.6"/></g>
<g id="n617"><use href="#rd" x="616.2" y="221.2"/><use href="#rd" x="587" y="223.5"/></g>
<g id="n420"><use href="#rd" x="419.2" y="259.6"/><use href="#rd" x="390" y="261.9"/></g>
<g id="n473"><use href="#rd" x="472.2" y="239.9"/><use href="#rd" x="443" y="242.2"/></g>
<g id="n507"><use href="#rd" x="506.2" y="246.8"/><use href="#rd" x="477" y="249.1"/></g>
<g id="n533"><use href="#rd" x="532.2" y="252.7"/><use href="#rd" x="503" y="255"/></g>
<g id="n457"><use href="#rd" x="456.2" y="279.4"/><use href="#rd" x="427" y="281.7"/></g>
<g id="n490"><use href="#rd" x="489.2" y="268.5"/><use href="#rd" x="460" y="270.8"/></g>
<g id="n490b"><use href="#rd" x="489.2" y="290.2"/><use href="#rd" x="460" y="292.5"/></g>
<g id="n518"><use href="#rd" x="517.2" y="284.3"/><use href="#rd" x="488" y="286.6"/></g>
<g id="n382"><use href="#rd" x="381.2" y="340.3"/><use href="#rd" x="352" y="342.6"/></g>
<g id="n475"><use href="#rd" x="474.2" y="307.9"/><use href="#rd" x="450" y="310.2"/></g>
<g id="n415"><use href="#rd" x="414.2" y="372.8"/><use href="#rd" x="385" y="375.1"/></g>
<g id="n442"><use href="#rd" x="441.2" y="323.6"/><use href="#rd" x="412" y="325.9"/></g>
<g id="n456"><use href="#rd" x="455.2" y="421.9"/><use href="#rd" x="426" y="424.2"/></g>
<g id="n493"><use href="#rd" x="492.2" y="383.2"/><use href="#rd" x="463" y="385.5"/></g>
<g id="n532"><use href="#rd" x="531.2" y="369.7"/><use href="#rd" x="502" y="372"/></g>
<g id="n565"><use href="#rd" x="564.2" y="356.7"/><use href="#rd" x="535" y="359"/></g>
<g id="n630"><use href="#rd" x="629.2" y="342.4"/><use href="#rd" x="600" y="344.7"/></g>
<g id="n663"><use href="#rd" x="662.2" y="349.3"/><use href="#rd" x="633" y="351.6"/></g>
<g id="n700"><use href="#rd" x="699.2" y="355.3"/><use href="#rd" x="670" y="357.6"/></g>
<g id="n597"><use href="#rd" x="596.2" y="371"/><use href="#rd" x="572" y="373.3"/></g>
<g id="n527"><use href="#rd" x="526.2" y="396.6"/><use href="#rd" x="497" y="398.9"/></g>
<g id="n558"><use href="#rd" x="557.2" y="402.6"/><use href="#rd" x="528" y="404.9"/></g>
<g id="n488"><use href="#rd" x="487.2" y="460.6"/><use href="#rd" x="463" y="462.9"/></g>
<g id="n525"><use href="#rd" x="524.2" y="425.9"/><use href="#rd" x="495" y="428.2"/></g>
<g id="n557"><use href="#rd" x="556.2" y="437.3"/><use href="#rd" x="532" y="439.6"/></g>
<g id="n590"><use href="#rd" x="589.2" y="452.3"/><use href="#rd" x="560" y="454.6"/></g>
<g id="n627"><use href="#rd" x="626.2" y="437"/><use href="#rd" x="597" y="439.3"/></g>
<g id="n655"><use href="#rd" x="654.2" y="443.9"/><use href="#rd" x="625" y="446.2"/></g>
<g id="n690"><use href="#rd" x="689.2" y="449.8"/><use href="#rd" x="660" y="452.1"/></g>
<g id="n627b"><use href="#rd" x="626.2" y="467.6"/><use href="#rd" x="597" y="469.9"/></g>
<g id="n665"><use href="#rd" x="664.2" y="473.5"/><use href="#rd" x="635" y="475.8"/></g>
<g id="n527b"><use href="#rd" x="526.2" y="495.3"/><use href="#rd" x="497" y="497.6"/></g>
<g id="n557b"><use href="#rd" x="556.2" y="489.4"/><use href="#rd" x="527" y="491.7"/></g>
<g id="n221"><use href="#rd" x="220.2" y="556.8"/><use href="#rd" x="191" y="559.1"/></g>
<g id="n253"><use href="#rd" x="252.2" y="596.7"/><use href="#rd" x="228" y="599"/></g>
<g id="n286"><use href="#rd" x="285.2" y="537.1"/><use href="#rd" x="256" y="539.4"/></g>
<g id="n313"><use href="#rd" x="312.2" y="549.5"/><use href="#rd" x="283" y="551.8"/></g>
<g id="n352"><use href="#rd" x="351.2" y="566.3"/><use href="#rd" x="322" y="568.6"/></g>
<g id="n385"><use href="#rd" x="384.2" y="556.4"/><use href="#rd" x="355" y="558.7"/></g>
<g id="n413"><use href="#rd" x="412.2" y="548.5"/><use href="#rd" x="381" y="550.8"/></g>
<g id="n385b"><use href="#rd" x="384.2" y="576.1"/><use href="#rd" x="355" y="578.4"/></g>
<g id="n285"><use href="#rd" x="284.2" y="656.2"/><use href="#rd" x="260" y="658.5"/></g>
<g id="n318"><use href="#rd" x="317.2" y="598.5"/><use href="#rd" x="288" y="600.8"/></g>
<g id="n365"><use href="#rd" x="364.2" y="609.1"/><use href="#rd" x="335" y="611.4"/></g>
<g id="n397"><use href="#rd" x="396.2" y="622.5"/><use href="#rd" x="372" y="624.8"/></g>
<g id="n467"><use href="#rd" x="466.2" y="613.6"/><use href="#rd" x="437" y="615.9"/></g>
<g id="n503"><use href="#rd" x="502.2" y="607.6"/><use href="#rd" x="473" y="609.9"/></g>
<g id="n430b"><use href="#rd" x="429.2" y="631.4"/><use href="#rd" x="400" y="633.7"/></g>
<g id="n323"><use href="#rd" x="322.2" y="714"/><use href="#rd" x="293" y="716.3"/></g>
<g id="n356"><use href="#rd" x="355.2" y="674.3"/><use href="#rd" x="326" y="676.6"/></g>
<g id="n413b"><use href="#rd" x="412.2" y="662"/><use href="#rd" x="383" y="664.3"/></g>
<g id="n446"><use href="#rd" x="445.2" y="653.1"/><use href="#rd" x="416" y="655.4"/></g>
<g id="n485b"><use href="#rd" x="484.2" y="647.1"/><use href="#rd" x="455" y="649.4"/></g>
<g id="n446b"><use href="#rd" x="445.2" y="670.8"/><use href="#rd" x="416" y="673.1"/></g>
<g id="n389"><use href="#rd" x="388.2" y="686.6"/><use href="#rd" x="359" y="688.9"/></g>
<g id="n356b"><use href="#rd" x="356.2" y="753.6"/><use href="#rd" x="327" y="755.9"/></g>
<g id="n389b"><use href="#rd" x="388.2" y="702.4"/><use href="#rd" x="364" y="704.7"/></g>
<g id="n395"><use href="#rd" x="394.2" y="804.8"/><use href="#rd" x="365" y="807.1"/></g>
<g id="n427c"><use href="#rd" x="426.2" y="732.3"/><use href="#rd" x="402" y="734.6"/></g>
<g id="n500"><use href="#rd" x="499.2" y="750.4"/><use href="#rd" x="470" y="752.7"/></g>
<g id="n537"><use href="#rd" x="536.2" y="778.6"/><use href="#rd" x="507" y="780.9"/></g>
<g id="n566"><use href="#rd" x="565.2" y="760.2"/><use href="#rd" x="536" y="762.5"/></g>
<g id="n603"><use href="#rd" x="602.2" y="741.2"/><use href="#rd" x="573" y="743.5"/></g>
<g id="n633"><use href="#rd" x="632.2" y="752.6"/><use href="#rd" x="603" y="754.9"/></g>
<g id="n670"><use href="#rd" x="669.2" y="743.7"/><use href="#rd" x="640" y="746"/></g>
<g id="n700b"><use href="#rd" x="699.2" y="749.7"/><use href="#rd" x="670" y="752"/></g>
<g id="n603b"><use href="#rd" x="602.2" y="779.2"/><use href="#rd" x="573" y="781.5"/></g>
<g id="n642"><use href="#rd" x="641.2" y="773.3"/><use href="#rd" x="612" y="775.6"/></g>
<g id="n567"><use href="#rd" x="566.2" y="797"/><use href="#rd" x="537" y="799.3"/></g>
<g id="n427b"><use href="#rd" x="426.2" y="877.4"/><use href="#rd" x="402" y="879.7"/></g>
<g id="n465"><use href="#rd" x="464.2" y="843.8"/><use href="#rd" x="435" y="846.1"/></g>
<g id="n493b"><use href="#rd" x="492.2" y="824.6"/><use href="#rd" x="463" y="826.9"/></g>
<g id="n525c"><use href="#rd" x="524.2" y="812.8"/><use href="#rd" x="500" y="815.1"/></g>
<g id="n525d"><use href="#rd" x="524.2" y="836.5"/><use href="#rd" x="500" y="838.8"/></g>
<g id="n562"><use href="#rd" x="561.2" y="828.6"/><use href="#rd" x="532" y="830.9"/></g>
<g id="n562b"><use href="#rd" x="561.2" y="844.4"/><use href="#rd" x="532" y="846.7"/></g>
<g id="n503b"><use href="#rd" x="502.2" y="863.1"/><use href="#rd" x="473" y="865.4"/></g>
<g id="n533b"><use href="#rd" x="532.2" y="870"/><use href="#rd" x="503" y="872.3"/></g>
<g id="n567b"><use href="#rd" x="566.2" y="876"/><use href="#rd" x="537" y="878.3"/></g>
<g id="n465b"><use href="#rd" x="464.2" y="911.1"/><use href="#rd" x="435" y="913.4"/></g>
<g id="n503c"><use href="#rd" x="502.2" y="891.8"/><use href="#rd" x="473" y="894.1"/></g>
<g id="n503d"><use href="#rd" x="502.2" y="930.3"/><use href="#rd" x="473" y="932.6"/></g>
<g id="n540"><use href="#rd" x="539.2" y="915.3"/><use href="#rd" x="510" y="917.6"/></g>
<g id="n573"><use href="#rd" x="572.2" y="907.4"/><use href="#rd" x="543" y="909.7"/></g>
<g id="n573b"><use href="#rd" x="572.2" y="923.2"/><use href="#rd" x="543" y="925.5"/></g>
<g id="n535"><use href="#rd" x="534.2" y="945.4"/><use href="#rd" x="510" y="947.7"/></g>
<g id="n568"><use href="#rd" x="567.2" y="955.7"/><use href="#rd" x="538" y="958"/></g>
<g id="n606"><use href="#rd" x="605.2" y="968.6"/><use href="#rd" x="576" y="970.9"/></g>
<g id="n643"><use href="#rd" x="642.2" y="956.7"/><use href="#rd" x="613" y="959"/></g>
<g id="n670b"><use href="#rd" x="669.2" y="962.7"/><use href="#rd" x="640" y="965"/></g>
<g id="n643b"><use href="#rd" x="642.2" y="980.4"/><use href="#rd" x="613" y="982.7"/></g>
<g id="n680"><use href="#rd" x="679.2" y="986.4"/><use href="#rd" x="650" y="988.7"/></g>
</g>
</svg>
